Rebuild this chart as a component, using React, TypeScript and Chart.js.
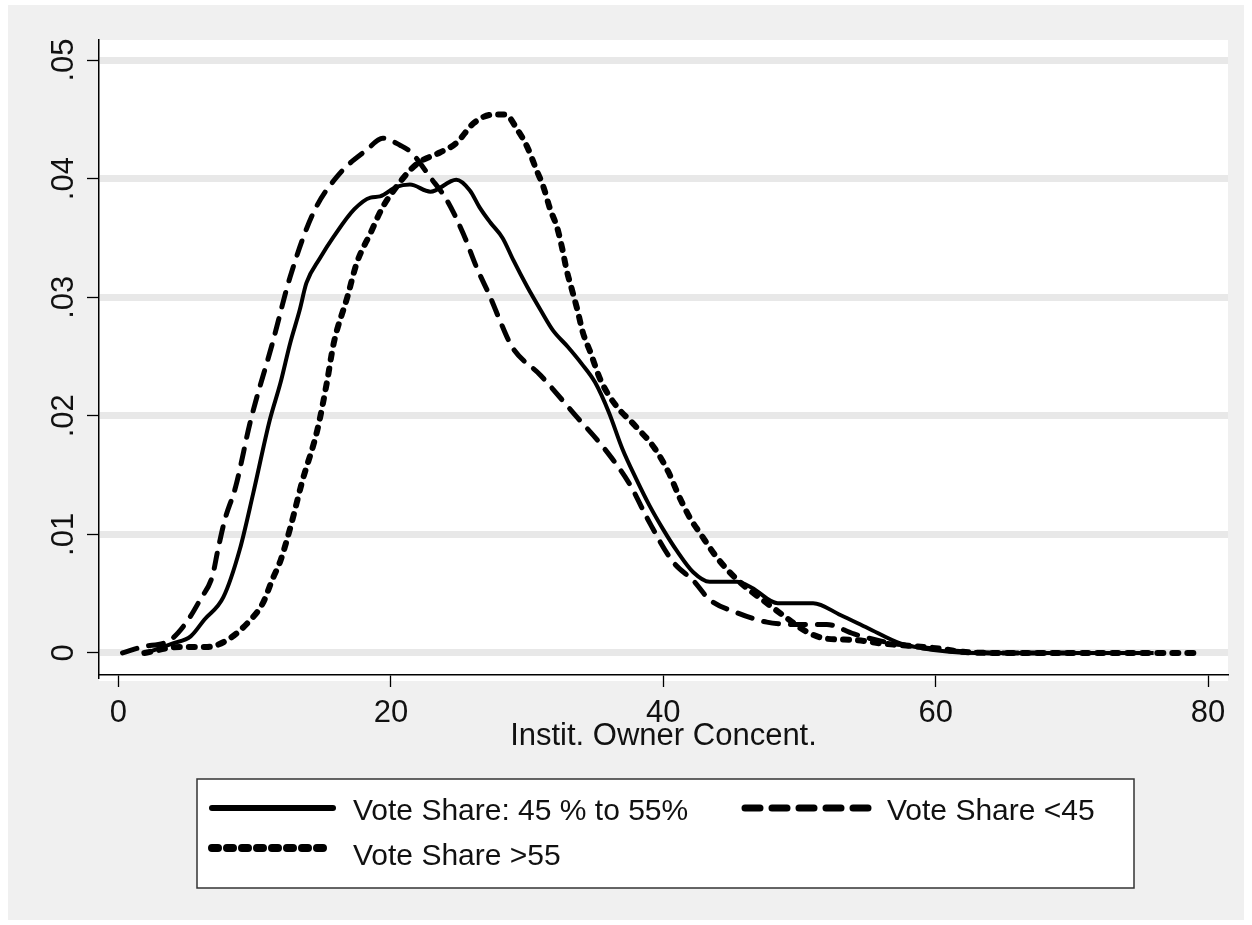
import React, { useEffect, useRef } from 'react';
import { Chart, registerables } from 'chart.js';

Chart.register(...registerables);

// ---- Data ----
const xTicks = [0, 20, 40, 60, 80];
const xTickLabels = ['0', '20', '40', '60', '80'];
const yTicks = [0, 0.01, 0.02, 0.03, 0.04, 0.05];
const yTickLabels = ['0', '.01', '.02', '.03', '.04', '.05'];
const xTitle = 'Instit. Owner Concent.';
const seriesLabels = ['Vote Share: 45 % to 55%', 'Vote Share <45', 'Vote Share >55'];

// Vote Share 45% to 55% (solid)
const midX = [2.0, 4.0, 5.3, 6.3, 7.7, 8.9, 9.9, 11.1, 11.9, 12.6, 13.3, 13.8, 14.8, 15.8, 17.3, 18.5, 19.2, 20.4, 21.4, 22.9, 24.8, 25.8, 26.5, 27.3, 28.2, 29.0, 30.0, 31.0, 31.9, 33.0, 34.0, 35.0, 36.0, 37.0, 38.0, 39.0, 40.0, 41.0, 42.2, 43.4, 45.4, 46.5, 48.4, 51.0, 53.0, 55.0, 57.4, 59.0, 61.0, 63.0, 70.0, 76.0];
const midY = [0.0, 0.0008, 0.0014, 0.0028, 0.0047, 0.0087, 0.0135, 0.0196, 0.0228, 0.0261, 0.0289, 0.0312, 0.0333, 0.0351, 0.0374, 0.0384, 0.0385, 0.0393, 0.0395, 0.0389, 0.0399, 0.039, 0.0376, 0.0363, 0.035, 0.0331, 0.0309, 0.0289, 0.0272, 0.0258, 0.0244, 0.0228, 0.0203, 0.0172, 0.0147, 0.0124, 0.0104, 0.0086, 0.0068, 0.006, 0.006, 0.0055, 0.0042, 0.0042, 0.0032, 0.0021, 0.0008, 0.0004, 0.0001, 0.0, 0.0, 0.0];

// Vote Share <45 (long dash)
const lowX = [0.3, 1.7, 3.8, 5.0, 6.0, 6.9, 7.3, 7.8, 8.6, 9.7, 11.3, 12.6, 14.3, 16.3, 18.2, 19.4, 20.7, 21.5, 22.9, 24.1, 25.3, 26.3, 27.3, 28.2, 28.9, 31.0, 33.5, 35.7, 37.6, 38.8, 40.7, 42.2, 43.4, 45.4, 47.6, 50.0, 52.0, 54.0, 56.0, 58.0, 60.0, 62.0, 64.0, 70.0];
const lowY = [0.0, 0.0005, 0.0011, 0.0026, 0.0045, 0.0065, 0.0087, 0.0112, 0.014, 0.0196, 0.0261, 0.0317, 0.0371, 0.0405, 0.0424, 0.0434, 0.0428, 0.0422, 0.0401, 0.0382, 0.0354, 0.0325, 0.03, 0.0275, 0.0258, 0.0234, 0.0201, 0.0172, 0.0141, 0.0114, 0.0077, 0.0061, 0.0045, 0.0034, 0.0026, 0.0024, 0.0024, 0.0016, 0.001, 0.0006, 0.0003, 0.0001, 0.0, 0.0];

// Vote Share >55 (short dash)
const highX = [1.9, 4.5, 6.5, 8.0, 9.7, 10.6, 11.3, 11.9, 12.6, 13.5, 14.6, 15.3, 15.8, 16.8, 17.5, 18.5, 19.4, 20.4, 21.4, 22.1, 23.6, 24.8, 26.1, 27.5, 28.4, 29.3, 30.0, 30.7, 31.2, 31.7, 32.2, 32.6, 32.9, 33.3, 33.7, 34.1, 34.6, 35.4, 36.5, 37.9, 39.4, 40.4, 41.2, 42.0, 42.7, 43.9, 45.4, 47.6, 49.0, 50.5, 52.0, 54.0, 56.0, 58.0, 60.0, 62.0, 64.0, 70.0, 79.0];
const highY = [0.0, 0.0005, 0.0005, 0.0011, 0.0028, 0.0042, 0.0062, 0.0078, 0.0105, 0.0145, 0.0188, 0.0228, 0.0261, 0.03, 0.0329, 0.0354, 0.0376, 0.0393, 0.0407, 0.0414, 0.0422, 0.043, 0.0447, 0.0454, 0.0454, 0.0441, 0.0427, 0.0407, 0.0393, 0.0374, 0.0359, 0.034, 0.0323, 0.0306, 0.0289, 0.027, 0.0255, 0.023, 0.0209, 0.0192, 0.0172, 0.0152, 0.0131, 0.0113, 0.0101, 0.0081, 0.0062, 0.0042, 0.003, 0.0018, 0.0012, 0.0011, 0.0008, 0.0006, 0.0004, 0.0001, 0.0, 0.0, 0.0];

const toPoints = (xs: number[], ys: number[]) => xs.map((x, i) => ({ x, y: ys[i] }));

const FONT = '"Liberation Sans", Arial, sans-serif';

const backgroundPlugin = {
  id: 'stataBackground',
  beforeDraw(chart: any) {
    const { ctx, chartArea } = chart;
    ctx.save();
    ctx.fillStyle = '#f0f0f0';
    ctx.fillRect(0, 0, chart.width, chart.height);
    ctx.fillStyle = '#ffffff';
    ctx.fillRect(chartArea.left, chartArea.top, chartArea.right - chartArea.left, chartArea.bottom - chartArea.top + 6);
    ctx.restore();
  },
};

const legendPlugin = {
  id: 'stataLegend',
  afterDraw(chart: any) {
    const ctx = chart.ctx;
    ctx.save();
    const bx = 189, by = 774, bw = 937, bh = 109;
    ctx.fillStyle = '#ffffff';
    ctx.fillRect(bx, by, bw, bh);
    ctx.strokeStyle = '#333333';
    ctx.lineWidth = 1.5;
    ctx.setLineDash([]);
    ctx.strokeRect(bx, by, bw, bh);
    const slots = [
      { sx: 204, ex: 325, sy: 803, tx: 345, ty: 815 },
      { sx: 737, ex: 865, sy: 803, tx: 879, ty: 815 },
      { sx: 204, ex: 319, sy: 843, tx: 345, ty: 860 },
    ];
    chart.data.datasets.forEach((ds: any, i: number) => {
      const s = slots[i];
      if (!s) return;
      ctx.beginPath();
      ctx.setLineDash(ds.borderDash || []);
      ctx.lineWidth = (ds.borderWidth || 3) + 2;
      ctx.lineCap = 'round';
      ctx.strokeStyle = ds.borderColor;
      ctx.moveTo(s.sx, s.sy);
      ctx.lineTo(s.ex, s.sy);
      ctx.stroke();
      ctx.setLineDash([]);
      ctx.fillStyle = '#111111';
      ctx.font = `30px ${FONT}`;
      ctx.textBaseline = 'alphabetic';
      ctx.textAlign = 'left';
      ctx.fillText(ds.label, s.tx, s.ty);
    });
    ctx.restore();
  },
};

export default function App() {
  const canvasRef = useRef<HTMLCanvasElement | null>(null);

  useEffect(() => {
    document.body.style.margin = '0';
    const canvas = canvasRef.current;
    if (!canvas) return;
    const chart = new Chart(canvas, {
      type: 'line',
      data: {
        datasets: [
          {
            label: seriesLabels[0],
            data: toPoints(midX, midY),
            borderColor: '#000000',
            borderWidth: 4,
            borderDash: [],
            pointRadius: 0,
            cubicInterpolationMode: 'monotone',
            fill: false,
          },
          {
            label: seriesLabels[1],
            data: toPoints(lowX, lowY),
            borderColor: '#000000',
            borderWidth: 5,
            borderDash: [15, 12],
            borderCapStyle: 'round',
            pointRadius: 0,
            cubicInterpolationMode: 'monotone',
            fill: false,
          },
          {
            label: seriesLabels[2],
            data: toPoints(highX, highY),
            borderColor: '#000000',
            borderWidth: 6,
            borderDash: [6, 9],
            borderCapStyle: 'round',
            pointRadius: 0,
            cubicInterpolationMode: 'monotone',
            fill: false,
          },
        ] as any,
      },
      options: {
        responsive: false,
        animation: false,
        devicePixelRatio: 1,
        layout: { padding: { left: 0, top: 35, right: 16, bottom: 145 } },
        plugins: {
          legend: { display: false },
          tooltip: { enabled: false },
        },
        scales: {
          x: {
            type: 'linear',
            min: -1.43,
            max: 81.46,
            afterBuildTicks: (s: any) => {
              s.ticks = xTicks.map((v) => ({ value: v }));
            },
            afterFit: (s: any) => {
              s.height = 100;
            },
            ticks: {
              autoSkip: false,
              maxRotation: 0,
              minRotation: 0,
              padding: 8,
              color: '#111111',
              font: { family: FONT, size: 31 },
              callback: (v: any) => {
                const i = xTicks.indexOf(Number(v));
                return i >= 0 ? xTickLabels[i] : '';
              },
            },
            grid: {
              drawOnChartArea: false,
              drawTicks: true,
              tickLength: 12,
              tickColor: '#000000',
              tickWidth: 1.3,
            },
            border: { color: '#000000', width: 1.5 },
            title: {
              display: true,
              text: xTitle,
              color: '#111111',
              font: { family: FONT, size: 31 },
              padding: { top: 0, bottom: 20 },
            },
          },
          y: {
            type: 'linear',
            min: -0.00186,
            max: 0.05169,
            afterBuildTicks: (s: any) => {
              s.ticks = yTicks.map((v) => ({ value: v }));
            },
            afterFit: (s: any) => {
              s.width = 91;
            },
            ticks: {
              autoSkip: false,
              minRotation: 90,
              maxRotation: 90,
              crossAlign: 'center',
              padding: 1,
              color: '#111111',
              font: { family: FONT, size: 31 },
              callback: (v: any) => {
                const i = yTicks.findIndex((t) => Math.abs(t - Number(v)) < 1e-9);
                return i >= 0 ? yTickLabels[i] : '';
              },
            },
            grid: {
              color: '#e8e8e8',
              lineWidth: 7,
              drawTicks: true,
              tickLength: 12,
              tickColor: '#000000',
              tickWidth: 1.3,
            },
            border: { color: '#000000', width: 1.5 },
          },
        },
      } as any,
      plugins: [backgroundPlugin, legendPlugin],
    });
    return () => {
      chart.destroy();
    };
  }, []);

  return (
    <div style={{ position: 'absolute', left: 8, top: 5 }}>
      <canvas ref={canvasRef} width={1236} height={915} style={{ width: 1236, height: 915, display: 'block' }} />
    </div>
  );
}
